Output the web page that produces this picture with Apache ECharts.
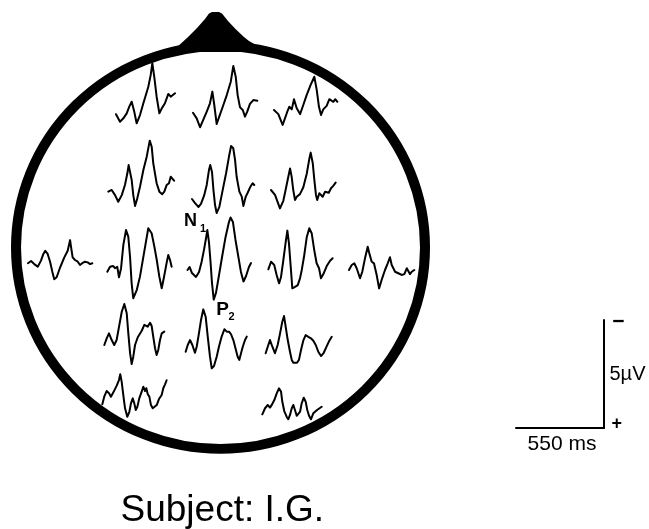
<!DOCTYPE html>
<html><head><meta charset="utf-8">
<script src="https://cdn.jsdelivr.net/npm/echarts@6/dist/echarts.min.js"></script>
<style>html,body{margin:0;padding:0;background:#fff}#c{width:649px;height:529px}</style>
</head><body><div id="c"></div>
<script>
// Electrode sites (row by row, front to back)
const electrodes = ['F3','Fz','F4','FC3','FCz','FC4','T3','C3','Cz','C4','T4','CP3','CPz','CP4','P3','P4'];

// ERP waveforms: [time (ms), amplitude (µV)], negative up
const F3 = [[0,0.01],[25,0.36],[46,0.20],[67,-0.03],[83,-0.34],[98,-0.57],[114,-0.11],[129,0.43],[150,0.05],[171,-0.50],[202,-1.26],[217,-1.81],[227,-2.35],[239,-1.73],[254,-0.80],[271,-0.03],[286,-0.26],[306,-0.50],[327,-0.93],[342,-0.80],[354,-0.80],[369,-0.96]];
const Fz = [[0,-0.01],[23,0.25],[44,0.66],[64,0.32],[86,-0.06],[106,-0.45],[121,-0.99],[133,-0.37],[148,0.51],[164,0.17],[186,-0.29],[211,-0.83],[236,-1.45],[252,-2.18],[267,-1.68],[279,-0.83],[294,-0.26],[311,-0.14],[325,0.17],[339,-0.06],[356,-0.42],[377,-0.60],[388,-0.68],[402,-0.57]];
const F4 = [[0,0],[27,0.19],[54,0.69],[69,0.38],[83,0.08],[96,-0.15],[111,-0.03],[125,-0.50],[142,-0.08],[163,0.19],[183,-0.23],[204,-0.69],[229,-1.16],[252,-1.54],[267,-0.93],[281,-0.15],[294,0.23],[308,-0.03],[329,-0.19],[346,-0.50],[358,-0.57],[371,-0.38],[383,-0.50],[396,-0.38]];
const FC3 = [[2,0.03],[23,-0.05],[44,0.19],[64,0.50],[86,0.19],[106,-0.28],[121,-0.82],[129,-1.20],[138,-1.13],[148,-0.51],[158,0.19],[169,0.69],[183,0.34],[200,-0.20],[221,-0.97],[242,-1.59],[261,-2.33],[273,-2.05],[283,-1.28],[304,-0.36],[321,0.03],[339,0.15],[352,0.03],[367,-0.28],[381,-0.36],[392,-0.66],[404,-0.59],[413,-0.48]];
const FCz = [[0,0],[19,0.19],[41,0.37],[56,0.23],[75,-0.14],[92,-0.65],[106,-1.34],[114,-1.57],[125,-1.25],[134,-0.42],[144,0.28],[154,0.65],[171,0.36],[192,-0.42],[213,-1.19],[233,-2.04],[244,-2.45],[258,-2.35],[269,-1.81],[279,-1.03],[296,-0.34],[311,-0.11],[321,0.32],[336,-0.11],[348,-0.29],[363,-0.54],[379,-0.73],[389,-0.65]];
const FC4 = [[0,0],[25,0.23],[56,0.85],[77,0.50],[89,0.08],[104,-0.46],[119,-1.00],[129,-0.62],[139,0],[150,0.46],[161,0.31],[181,0.19],[202,-0.13],[223,-0.74],[239,-1.42],[248,-1.73],[261,-1.24],[271,-0.46],[281,0.23],[289,0.46],[302,0.15],[313,0.08],[323,0.31],[338,0.08],[350,0],[361,0.13],[375,-0.08],[389,-0.19],[404,-0.34]];
const T3 = [[0,0.01],[19,-0.09],[39,0.05],[61,0.17],[81,-0.11],[96,-0.42],[108,-0.56],[123,-0.42],[138,-0.06],[152,0.40],[164,0.75],[179,0.66],[200,0.22],[227,-0.26],[248,-0.57],[263,-1.06],[269,-0.75],[279,-0.26],[294,-0.14],[311,-0.06],[325,0.09],[339,0.01],[356,-0.06],[373,-0.03],[388,0.05],[402,0.01]];
const C3 = [[2,0.17],[19,-0.06],[39,-0.09],[50,0.01],[64,-0.06],[75,0.43],[88,0.01],[102,-1.06],[119,-1.76],[133,-1.45],[144,-0.52],[154,0.71],[164,1.40],[186,1.02],[206,0.40],[231,-0.68],[258,-1.84],[279,-1.61],[296,-0.99],[311,-0.37],[327,0.40],[342,0.94],[356,0.43],[373,-0.25],[383,-0.60],[394,-0.37],[404,-0.06]];
const Cz = [[0,0],[13,-0.14],[28,0.14],[53,0.32],[72,0.09],[88,-0.37],[103,-0.93],[116,-1.48],[124,-1.85],[134,-1.30],[144,-0.37],[153,0.60],[164,1.37],[178,1.06],[194,0.37],[216,-0.60],[238,-1.53],[259,-2.22],[269,-2.43],[284,-2.22],[300,-1.39],[319,-0.56],[334,0.09],[350,0.53],[366,0.28],[384,-0.14],[397,-0.32]];
const C4 = [[2,0.06],[19,-0.29],[27,-0.37],[39,-0.14],[54,0.32],[69,0.71],[81,0.43],[96,-0.37],[111,-1.22],[121,-1.73],[131,-1.14],[142,-0.06],[152,0.94],[169,0.87],[186,0.79],[200,0.48],[211,0.09],[225,-0.52],[242,-1.42],[258,-1.84],[273,-1.61],[289,-0.83],[304,-0.22],[319,0.01],[331,0.48],[346,0.28],[367,-0.09],[388,-0.34],[404,-0.45]];
const T4 = [[0,0],[17,-0.23],[33,-0.31],[48,-0.08],[69,0.38],[83,0.08],[100,-0.54],[117,-1.08],[127,-0.77],[142,-0.38],[156,-0.31],[173,0.23],[188,0.85],[204,0.46],[225,0],[242,-0.31],[256,-0.59],[267,-0.23],[288,0.08],[308,0.15],[329,0.23],[346,0.19],[361,-0.08],[371,0],[381,0.19],[392,0.08],[408,0]];
const CP3 = [[2,0],[17,-0.31],[31,-0.54],[48,-0.23],[64,0],[79,-0.23],[94,-0.85],[111,-1.54],[127,-1.90],[142,-1.47],[152,-0.54],[163,0.38],[173,0.88],[183,0.54],[194,0],[211,-0.36],[236,-0.66],[252,-0.93],[263,-1.00],[273,-0.85],[288,-1.03],[298,-0.88],[308,-0.38],[319,0.15],[329,0.46],[339,0.23],[350,-0.23],[361,-0.54],[377,-0.62]];
const CPz = [[1,0.01],[14,-0.30],[28,-0.53],[43,-0.30],[59,0.06],[70,-0.22],[84,-0.84],[97,-1.46],[111,-1.95],[126,-1.61],[139,-0.69],[153,0.24],[164,0.78],[178,0.67],[195,0.24],[209,-0.22],[226,-0.69],[243,-1.03],[258,-0.92],[272,-0.92],[284,-0.81],[299,-0.53],[314,-0.10],[326,0.24],[336,0.39],[347,0.08],[358,-0.22],[372,-0.53],[383,-0.69]];
const CP4 = [[1,0.01],[14,-0.29],[28,-0.60],[43,-0.29],[59,0.01],[76,-0.37],[91,-0.91],[105,-1.45],[116,-1.71],[126,-1.22],[139,-0.60],[153,-0.06],[164,0.32],[174,0.45],[184,0.36],[197,0.45],[209,0.32],[222,-0.14],[236,-0.57],[251,-0.83],[268,-0.75],[284,-0.68],[299,-0.57],[314,-0.37],[330,-0.06],[347,0.14],[364,-0.01],[383,-0.32],[399,-0.57],[414,-0.75]];
const P3 = [[2,0.01],[14,-0.34],[29,-0.60],[44,-0.50],[56,-0.34],[71,-0.54],[92,-0.85],[106,-1.11],[114,-1.38],[123,-1.03],[133,-0.42],[144,0.20],[158,0.59],[171,0.36],[181,-0.03],[192,-0.26],[202,-0.03],[211,0.28],[221,0.13],[233,-0.26],[248,-0.57],[258,-0.80],[269,-0.60],[277,-0.73],[286,-0.45],[296,-0.34],[306,0.05],[317,0.20],[327,0.13],[342,0.05],[356,-0.23],[373,-0.42],[383,-0.73],[394,-0.91],[404,-1.10]];
const P4 = [[2,0.06],[19,-0.22],[36,-0.37],[50,-0.25],[63,-0.40],[77,-0.60],[92,-0.91],[106,-1.14],[119,-0.99],[127,-0.52],[139,-0.09],[154,0.17],[164,0.29],[175,0.09],[186,-0.22],[196,-0.37],[206,-0.14],[217,0.13],[227,0.17],[238,-0.06],[248,-0.45],[261,-0.71],[273,-0.52],[283,-0.14],[294,0.13],[306,0.29],[321,0.01],[331,-0.06],[344,-0.14],[356,-0.22],[373,-0.29]];

const traces = [F3,Fz,F4,FC3,FCz,FC4,T3,C3,Cz,C4,T4,CP3,CPz,CP4,P3,P4];

// Scale bar values and labels
const scaleTime = 550;   // ms
const scaleVolt = 5;     // µV
const timeLabel = '550 ms';
const voltLabel = '5\u00b5V';
const negLabel = '\u2212';
const posLabel = '+';
const titleText = 'Subject: I.G.';
const peakLabels = ['N', '1', 'P', '2'];

// ---- layout (pixels) ----
const sitePos = [[116,114],[193,113],[274,110],[108,191],[192,199],[271,190],[28,263],[107,268],[187.5,270],[268,268],[349,270],[104,345],[185.5,351.5],[265.5,353],[102,404],[262,413]];
const BAR = {left:516, top:320, w:88, h:108};
const pxPerMs = BAR.w / scaleTime, pxPerUv = BAR.h / scaleVolt;
const T_MAX = 500, V_MAX = 3;
const FONT = '"Liberation Sans", Arial, Helvetica, sans-serif';

const grid = [], xAxis = [], yAxis = [], series = [];
traces.forEach((d, i) => {
  const [x0, y0] = sitePos[i];
  grid.push({left: x0, top: y0 - V_MAX * pxPerUv, width: T_MAX * pxPerMs, height: 2 * V_MAX * pxPerUv, containLabel: false});
  xAxis.push({type:'value', gridIndex:i, min:0, max:T_MAX, show:false});
  yAxis.push({type:'value', gridIndex:i, min:-V_MAX, max:V_MAX, inverse:true, show:false});
  series.push({type:'line', name: electrodes[i], xAxisIndex:i, yAxisIndex:i, data:d, symbol:'none', showSymbol:false,
    clip:false, silent:true, lineStyle:{color:'#000', width:2, join:'round', cap:'round'}});
});
// scale bar grid
const si = traces.length;
grid.push({left:BAR.left, top:BAR.top, width:BAR.w, height:BAR.h});
xAxis.push({type:'value', gridIndex:si, min:0, max:scaleTime, axisLine:{show:true, onZero:false, lineStyle:{color:'#000', width:2}}, axisTick:{show:false}, axisLabel:{show:false}, splitLine:{show:false}});
yAxis.push({type:'value', gridIndex:si, min:0, max:scaleVolt, position:'right', axisLine:{show:true, onZero:false, lineStyle:{color:'#000', width:2}}, axisTick:{show:false}, axisLabel:{show:false}, splitLine:{show:false}});
series.push({type:'line', xAxisIndex:si, yAxisIndex:si, data:[], silent:true});

const txt = (s, x, y, size, weight, align) => ({type:'text', x, y, silent:true,
  style:{text:s, fill:'#000', font: (weight||'normal') + ' ' + size + 'px ' + FONT, textAlign: align||'center', textVerticalAlign:'middle'}});

const chart = echarts.init(document.getElementById('c'), null, {renderer:'canvas'});
chart.setOption({
  animation:false,
  backgroundColor:'#fff',
  grid, xAxis, yAxis, series,
  graphic:[
    {type:'polygon', silent:true, shape:{points:[[176,52],[176,48],[187,38],[197,28],[205,19],[209,13.5],[212,12],[219,12],[222,13.5],[228,21],[236,29.5],[244,37],[249,41],[256,45],[256,52]]}, style:{fill:'#000'}},
    {type:'circle', silent:true, x:220.5, y:247.5, scaleY:0.985, shape:{cx:0, cy:0, r:204.5}, style:{fill:'none', stroke:'#000', lineWidth:10}},
    txt(peakLabels[0], 190.5, 221.5, 18, 'bold'),
    txt(peakLabels[1], 203, 229, 11, 'bold'),
    txt(peakLabels[2], 222.5, 309.7, 19, 'bold'),
    txt(peakLabels[3], 231.5, 317, 11, 'bold'),
    txt(titleText, 222.3, 510.5, 37, 'normal'),
    txt(timeLabel, 562, 444, 21, 'normal'),
    txt(voltLabel, 609.5, 374.5, 20, 'normal', 'left'),
    txt(negLabel, 618.5, 322.5, 21, 'bold'),
    txt(posLabel, 616.7, 424.5, 18, 'bold')
  ]
});
</script></body></html>
